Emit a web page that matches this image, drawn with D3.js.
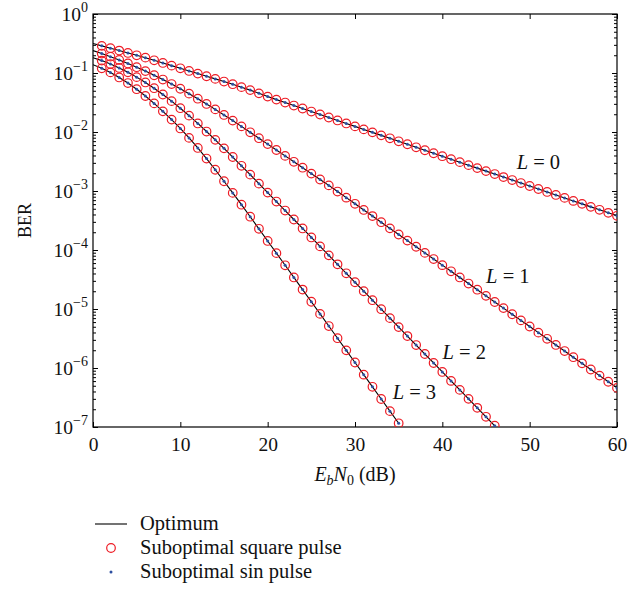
<!DOCTYPE html>
<html><head><meta charset="utf-8">
<script src="https://cdn.jsdelivr.net/npm/d3@7"></script>
<style>
body{margin:0;background:#fff;}
svg text{font-family:"Liberation Serif","Times New Roman",serif;fill:#111;}
</style></head>
<body><svg id="c" width="642" height="593"></svg>
<script>
// x values (Eb/N0 in dB) start at 0; markers drawn from 1 dB on
// log10(BER) for each diversity order L
const log10BerL0 = [-0.50,-0.54,-0.58,-0.62,-0.66,-0.70,-0.74,-0.785,-0.83,-0.875,-0.92,-0.965,-1.01,-1.055,-1.10,-1.145,-1.19,-1.24,-1.29,-1.345,-1.400,-1.451,-1.501,-1.552,-1.602,-1.653,-1.703,-1.754,-1.804,-1.855,-1.905,-1.956,-2.006,-2.057,-2.107,-2.158,-2.208,-2.259,-2.309,-2.360,-2.410,-2.461,-2.511,-2.562,-2.612,-2.663,-2.713,-2.764,-2.814,-2.865,-2.915,-2.966,-3.016,-3.067,-3.117,-3.168,-3.218,-3.269,-3.319,-3.370,-3.420];
const log10BerL1 = [-0.62,-0.67,-0.723,-0.779,-0.839,-0.902,-0.968,-1.038,-1.111,-1.187,-1.267,-1.35,-1.436,-1.525,-1.617,-1.711,-1.807,-1.905,-2.005,-2.105,-2.205,-2.305,-2.405,-2.505,-2.605,-2.705,-2.805,-2.905,-3.009,-3.113,-3.217,-3.321,-3.425,-3.529,-3.633,-3.737,-3.841,-3.945,-4.049,-4.153,-4.257,-4.361,-4.465,-4.569,-4.673,-4.777,-4.881,-4.985,-5.089,-5.193,-5.297,-5.401,-5.505,-5.609,-5.713,-5.817,-5.921,-6.025,-6.129,-6.233,-6.337];
const log10BerL2 = [-0.74,-0.79,-0.848,-0.914,-0.988,-1.07,-1.16,-1.258,-1.364,-1.477,-1.597,-1.723,-1.855,-1.992,-2.133,-2.277,-2.424,-2.573,-2.723,-2.875,-3.027,-3.179,-3.331,-3.483,-3.635,-3.787,-3.939,-4.091,-4.243,-4.395,-4.547,-4.699,-4.851,-5.003,-5.155,-5.307,-5.459,-5.611,-5.763,-5.915,-6.067,-6.219,-6.371,-6.523,-6.675,-6.827,-6.979];
const log10BerL3 = [-0.86,-0.92,-0.99,-1.075,-1.17,-1.275,-1.39,-1.515,-1.65,-1.79,-1.94,-2.10,-2.27,-2.45,-2.64,-2.835,-3.032,-3.232,-3.436,-3.641,-3.847,-4.053,-4.259,-4.465,-4.671,-4.877,-5.083,-5.289,-5.495,-5.701,-5.907,-6.113,-6.319,-6.525,-6.731,-6.937];
const seriesNames = ["L = 0","L = 1","L = 2","L = 3"];
const xTicks = [0,10,20,30,40,50,60];
const yTickExponents = [0,-1,-2,-3,-4,-5,-6,-7];
const legendLabels = ["Optimum","Suboptimal square pulse","Suboptimal sin pulse"];
const curveLabelPos = [[51,-2.51],[47.5,-4.44],[42.5,-5.73],[36.8,-6.41]]; // [dB, log10 BER] centre of in-plot labels

const allLogs=[log10BerL0,log10BerL1,log10BerL2,log10BerL3];
const series = allLogs.map((arr,i)=>({name:seriesNames[i], pts:arr.map((v,k)=>({x:k,y:Math.pow(10,v)}))}));

const svg=d3.select("#c");
const M={l:93,r:617,t:14,b:427};
const xS=d3.scaleLinear().domain([0,60]).range([M.l,M.r]);
const yS=d3.scaleLog().domain([1e-7,1]).range([M.b,M.t]);

svg.append("defs").append("clipPath").attr("id","clip").append("rect")
  .attr("x",M.l).attr("y",M.t).attr("width",M.r-M.l).attr("height",M.b-M.t);

const g=svg.append("g");
g.append("rect").attr("x",M.l).attr("y",M.t).attr("width",M.r-M.l).attr("height",M.b-M.t)
 .attr("fill","none").attr("stroke","#000").attr("stroke-width",1.2);

const minorVals=[];
for(let e=-7;e<0;e++) for(let m=2;m<=9;m++) minorVals.push(m*Math.pow(10,e));
const majorVals=yTickExponents.map(e=>Math.pow(10,e));

const axBottom=g.append("g").attr("transform",`translate(0,${M.b})`)
 .call(d3.axisBottom(xS).tickValues(xTicks).tickSize(-5).tickPadding(10).tickFormat(d3.format("d")));
const axTop=g.append("g").attr("transform",`translate(0,${M.t})`)
 .call(d3.axisTop(xS).tickValues(xTicks).tickSize(-5).tickFormat(""));
const axLeft=g.append("g").attr("transform",`translate(${M.l},0)`)
 .call(d3.axisLeft(yS).tickValues(majorVals).tickSize(-5).tickFormat(""));
const axLeftMinor=g.append("g").attr("transform",`translate(${M.l},0)`)
 .call(d3.axisLeft(yS).tickValues(minorVals).tickSize(-3).tickFormat(""));
const axRight=g.append("g").attr("transform",`translate(${M.r},0)`)
 .call(d3.axisRight(yS).tickValues(majorVals).tickSize(-5).tickFormat(""));
const axRightMinor=g.append("g").attr("transform",`translate(${M.r},0)`)
 .call(d3.axisRight(yS).tickValues(minorVals).tickSize(-3).tickFormat(""));
[axBottom,axTop,axLeft,axLeftMinor,axRight,axRightMinor].forEach(a=>{a.select(".domain").remove();a.selectAll("line").attr("stroke","#000").attr("stroke-width",1);});
axBottom.selectAll("text").attr("font-size",19.5).attr("font-family","Liberation Serif").attr("fill","#111");

yTickExponents.forEach(e=>{
  const t=g.append("text").attr("x",M.l-5).attr("y",yS(Math.pow(10,e))+7).attr("text-anchor","end").attr("font-size",19.5);
  t.append("tspan").text("10");
  t.append("tspan").attr("dy",-9).attr("font-size",14).text(e===0?"0":"\u2212"+(-e));
});

svg.append("text").attr("transform",`translate(31,${(M.t+M.b)/2}) rotate(-90)`).attr("text-anchor","middle").attr("font-size",18).text("BER");
const xt=svg.append("text").attr("x",(M.l+M.r)/2).attr("y",M.b+54).attr("text-anchor","middle").attr("font-size",20);
xt.append("tspan").attr("font-style","italic").text("E");
xt.append("tspan").attr("font-style","italic").attr("font-size",14).attr("dy",4).text("b");
xt.append("tspan").attr("font-style","italic").attr("dy",-4).text("N");
xt.append("tspan").attr("font-size",14).attr("dy",4).text("0");
xt.append("tspan").attr("dy",-4).text(" (dB)");

const plot=g.append("g").attr("clip-path","url(#clip)");
const line=d3.line().x(d=>xS(d.x)).y(d=>yS(d.y));
series.forEach(s=>{
  plot.append("path").datum(s.pts).attr("d",line).attr("fill","none").attr("stroke","#000").attr("stroke-width",1.1);
});
series.forEach(s=>{
  plot.selectAll(null).data(s.pts.filter(p=>p.x>=1)).enter().append("circle")
   .attr("cx",d=>xS(d.x)).attr("cy",d=>yS(d.y)).attr("r",4.3).attr("fill","none").attr("stroke","#ee1c25").attr("stroke-width",1.2);
});
series.forEach(s=>{
  plot.selectAll(null).data(s.pts.filter(p=>p.x>=1)).enter().append("circle")
   .attr("cx",d=>xS(d.x)).attr("cy",d=>yS(d.y)).attr("r",1.5).attr("fill","#2d4fa0");
});

seriesNames.forEach((n,i)=>{
  const [px,pl]=curveLabelPos[i];
  const t=g.append("text").attr("x",xS(px)).attr("y",yS(Math.pow(10,pl))+7).attr("text-anchor","middle").attr("font-size",20.5);
  t.append("tspan").attr("font-style","italic").text("L");
  t.append("tspan").text(" = "+n.split("= ")[1]);
});

const lg=svg.append("g");
const ly=[524,548,572];
lg.append("line").attr("x1",95).attr("x2",127).attr("y1",ly[0]).attr("y2",ly[0]).attr("stroke","#000").attr("stroke-width",1.1);
lg.append("circle").attr("cx",111).attr("cy",ly[1]).attr("r",4.3).attr("fill","none").attr("stroke","#ee1c25").attr("stroke-width",1.2);
lg.append("circle").attr("cx",111).attr("cy",ly[2]).attr("r",1.5).attr("fill","#2d4fa0");
legendLabels.forEach((l,i)=>{
  lg.append("text").attr("x",140).attr("y",ly[i]+6).attr("font-size",20.5).text(l);
});
</script></body></html>
